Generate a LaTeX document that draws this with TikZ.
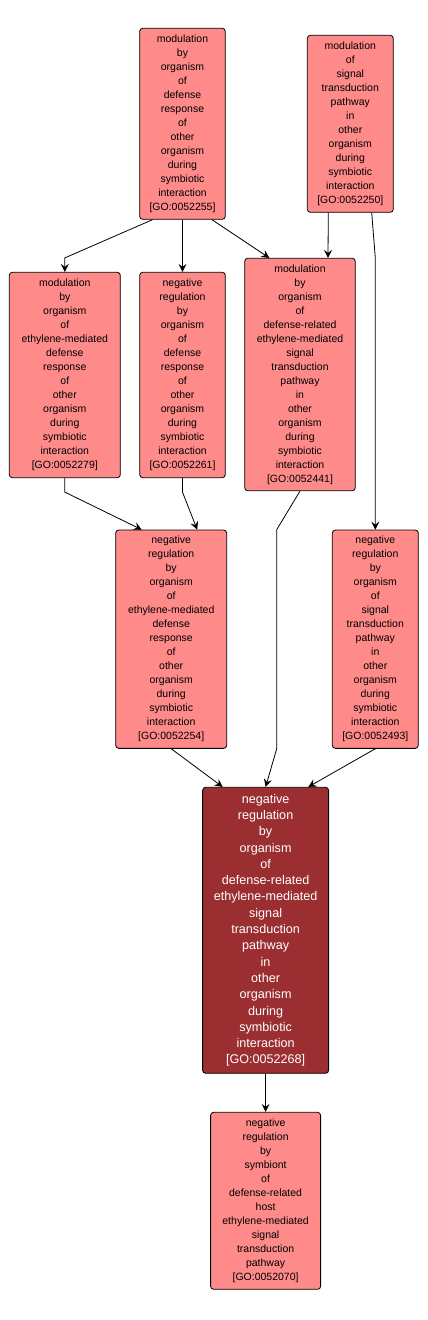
\documentclass[tikz,border=0pt]{standalone}
\usepackage{fontspec}
\setmainfont{Liberation Sans}
\usetikzlibrary{arrows.meta}
\usetikzlibrary{calc}
\definecolor{termfill}{RGB}{255,138,138}
\definecolor{focusfill}{RGB}{155,46,48}
\tikzset{
	term/.style={draw=black,fill=termfill,rounded corners=3pt,line width=0.8pt,inner sep=0pt,align=center,font=\fontsize{10.5}{14}\selectfont},
	focus/.style={term,fill=focusfill,text=white,font=\fontsize{12.6}{16.3}\selectfont},
	edge/.style={-{Stealth[length=8pt,width=8pt,inset=3pt]},line width=0.8pt}
}

\begin{document}
\begin{tikzpicture}[x=1pt,y=-1pt]
	\useasboundingbox (0,0) rectangle (428,1320);

	\node[term,minimum width=85.6pt,minimum height=191pt] (go255) at (182.5,123.8) {modulation\\by\\organism\\of\\defense\\response\\of\\other\\organism\\during\\symbiotic\\interaction\\{[GO:0052255]}};
	\node[term,minimum width=86pt,minimum height=177pt] (go250) at (350.3,123.8) {modulation\\of\\signal\\transduction\\pathway\\in\\other\\organism\\during\\symbiotic\\interaction\\{[GO:0052250]}};
	\node[term,minimum width=111pt,minimum height=205.4pt] (go279) at (64.8,375) {modulation\\by\\organism\\of\\ethylene-mediated\\defense\\response\\of\\other\\organism\\during\\symbiotic\\interaction\\{[GO:0052279]}};
	\node[term,minimum width=85.6pt,minimum height=205.4pt] (go261) at (182.5,375) {negative\\regulation\\by\\organism\\of\\defense\\response\\of\\other\\organism\\during\\symbiotic\\interaction\\{[GO:0052261]}};
	\node[term,minimum width=110.6pt,minimum height=232.4pt] (go441) at (300,374.5) {modulation\\by\\organism\\of\\defense-related\\ethylene-mediated\\signal\\transduction\\pathway\\in\\other\\organism\\during\\symbiotic\\interaction\\{[GO:0052441]}};
	\node[term,minimum width=111pt,minimum height=218.3pt] (go254) at (171.2,639.2) {negative\\regulation\\by\\organism\\of\\ethylene-mediated\\defense\\response\\of\\other\\organism\\during\\symbiotic\\interaction\\{[GO:0052254]}};
	\node[term,minimum width=86pt,minimum height=218.3pt] (go493) at (375.3,639.2) {negative\\regulation\\by\\organism\\of\\signal\\transduction\\pathway\\in\\other\\organism\\during\\symbiotic\\interaction\\{[GO:0052493]}};
	\node[focus,minimum width=126pt,minimum height=286pt] (go268) at (265.6,930.3) {negative\\regulation\\by\\organism\\of\\defense-related\\ethylene-mediated\\signal\\transduction\\pathway\\in\\other\\organism\\during\\symbiotic\\interaction\\{[GO:0052268]}};
	\node[term,minimum width=110pt,minimum height=177pt] (go070) at (265.6,1200.8) {negative\\regulation\\by\\symbiont\\of\\defense-related\\host\\ethylene-mediated\\signal\\transduction\\pathway\\{[GO:0052070]}};

	\draw[edge] ([xshift=-30pt]go255.south) -- ([yshift=14pt]go279.north) -- (go279.north);
	\draw[edge] (go255.south) -- (go261.north);
	\draw[edge] ([xshift=29.5pt]go255.south) -- ([xshift=-30.7pt]go441.north);
	\draw[edge] ([xshift=-22pt]go250.south) -- ([xshift=28pt]go441.north);
	\draw[edge] ([xshift=21.4pt]go250.south) -- (go493.north |- go441.north) -- (go493.north);
	\draw[edge] (go279.south) -- ([yshift=-14pt]go279.south) -- ([xshift=-29.5pt]go254.north);
	\draw[edge] (go261.south) -- ([yshift=-14pt]go261.south) -- ([xshift=26pt]go254.north);
	\draw[edge] (go441.south) -- ([xshift=-23.3pt]go441.south |- go254.north) -- ([xshift=-23.3pt]go441.south |- go254.south) -- (go268.north);
	\draw[edge] (go254.south) -- ([xshift=-43pt]go268.north);
	\draw[edge] (go493.south) -- ([xshift=42.7pt]go268.north);
	\draw[edge] (go268.south) -- (go070.north);
\end{tikzpicture}
\end{document}
